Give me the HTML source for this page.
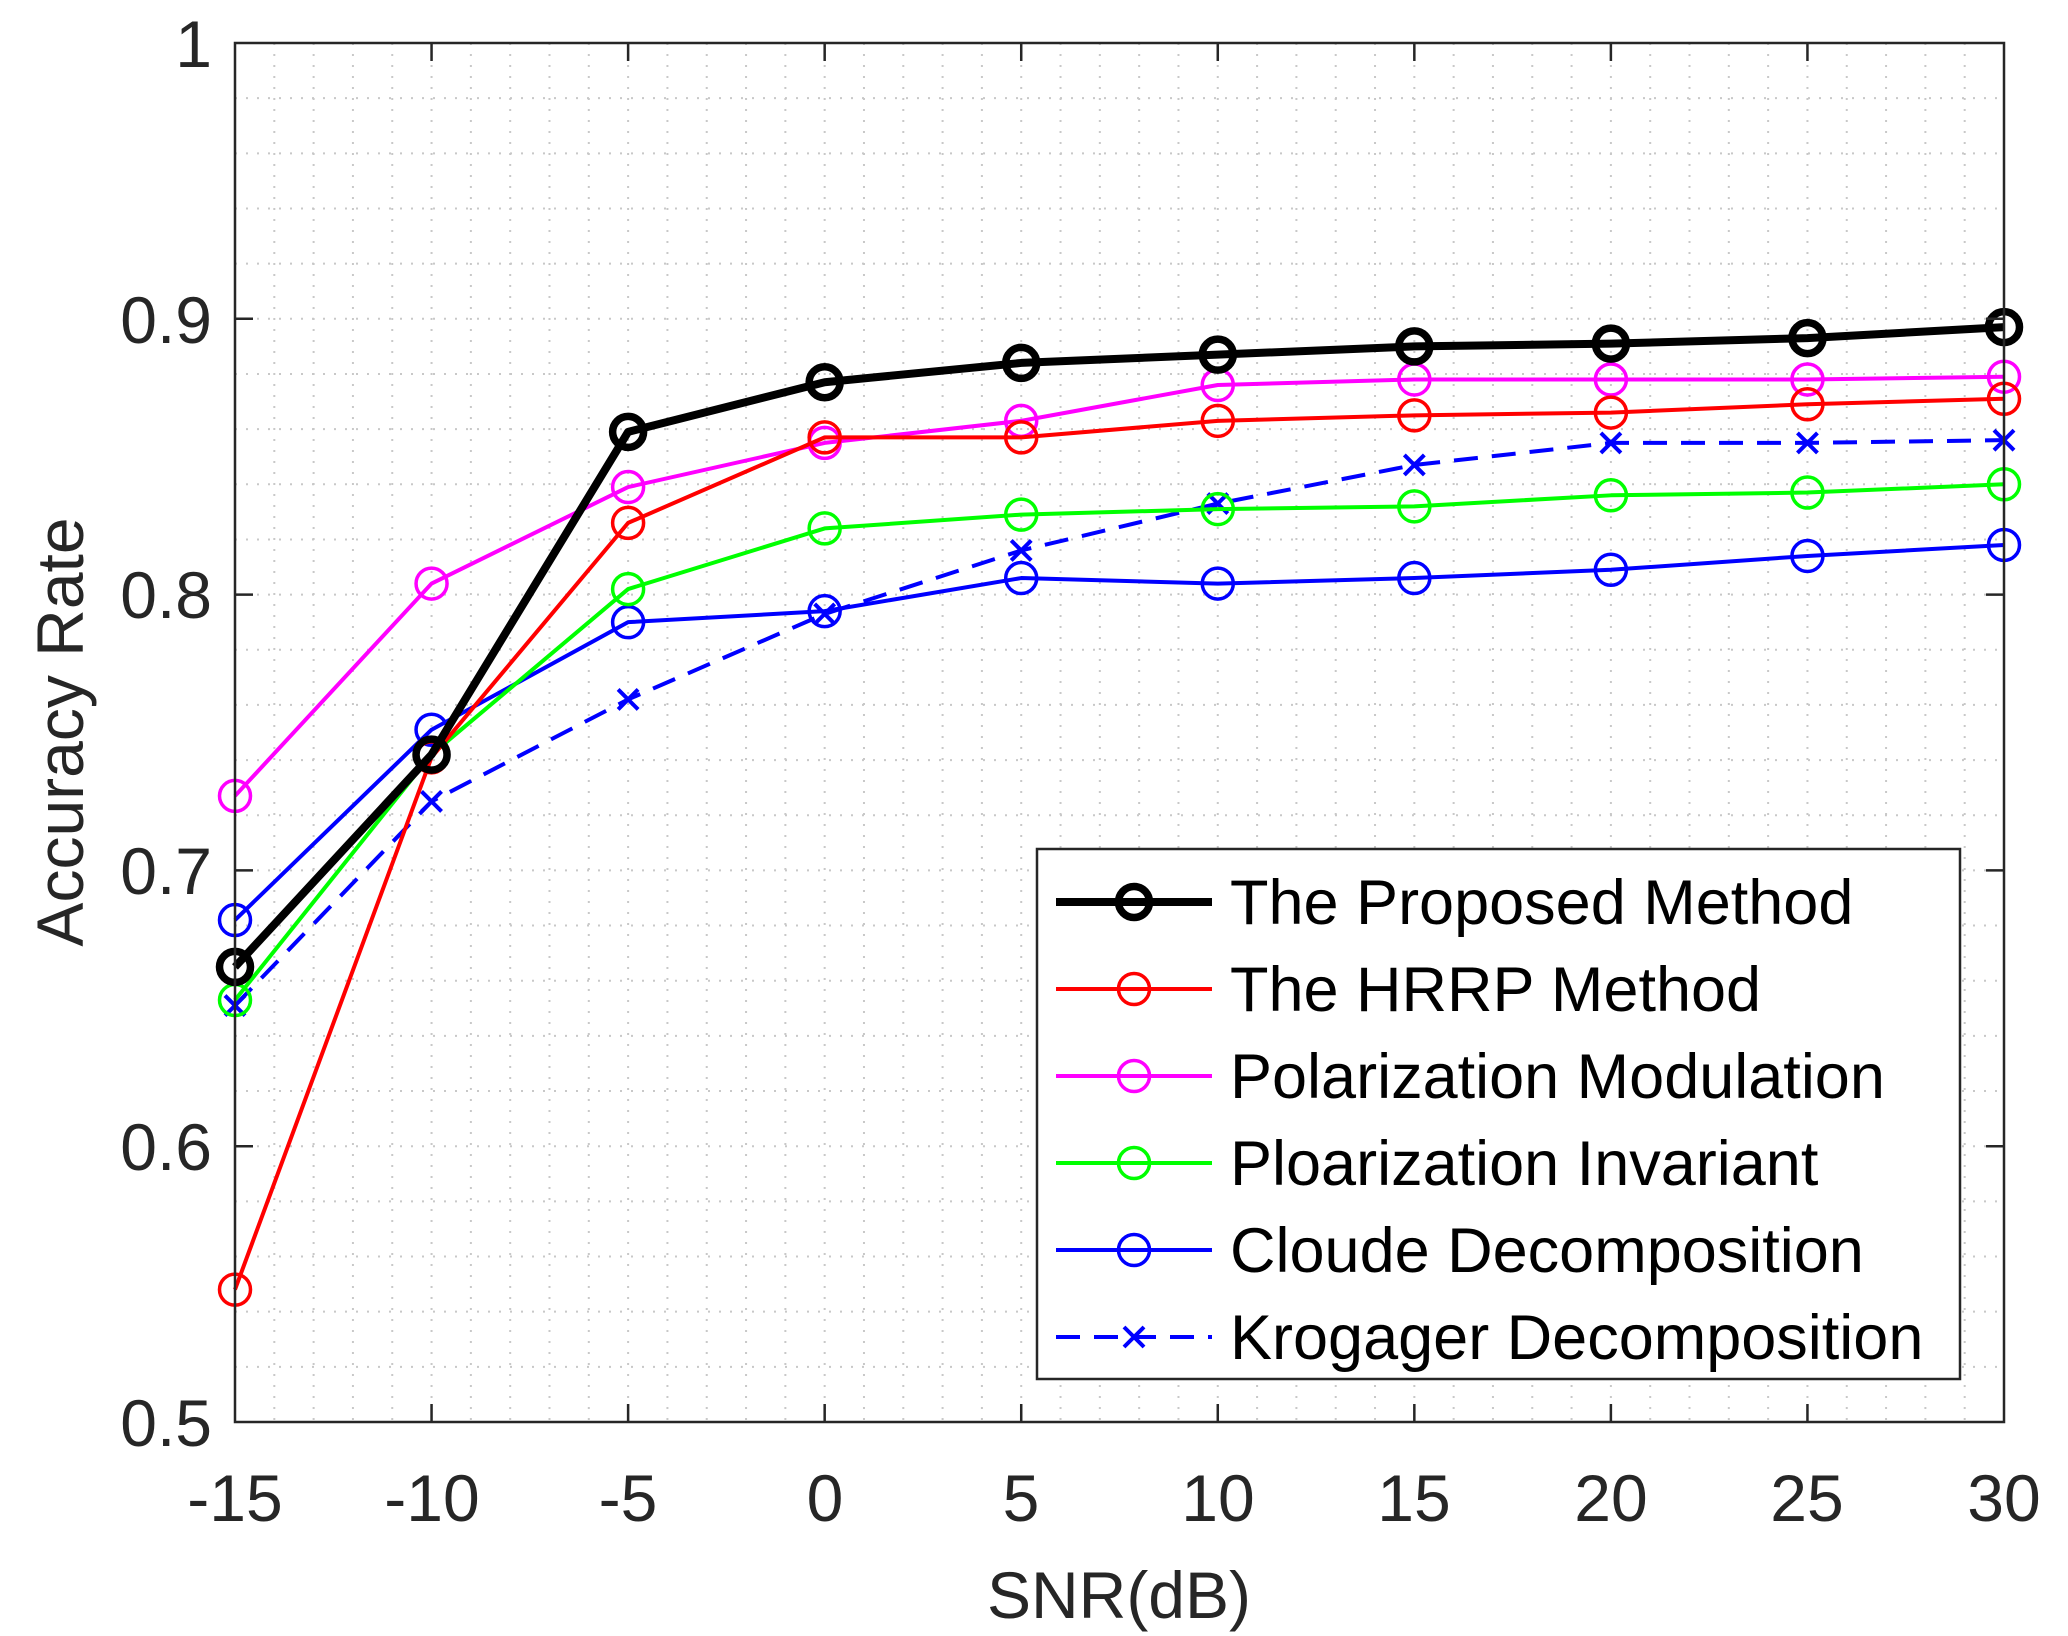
<!DOCTYPE html>
<html><head><meta charset="utf-8"><style>
html,body{margin:0;padding:0;background:#fff;}
svg{display:block;font-family:"Liberation Sans",sans-serif;}
</style></head><body>
<svg id="s" width="2068" height="1636" viewBox="0 0 2068 1636" xmlns="http://www.w3.org/2000/svg">
<rect width="2068" height="1636" fill="#fff"/>
<g id="grid"></g>
<g id="series"></g>
<rect x="235" y="43" width="1769" height="1379" fill="none" stroke="#262626" stroke-width="2.5"/>
<g id="ticks"></g>
<g font-size="66" fill="#262626" text-anchor="end">
<text x="212" y="1446">0.5</text>
<text x="212" y="1170">0.6</text>
<text x="212" y="894">0.7</text>
<text x="212" y="618">0.8</text>
<text x="212" y="343">0.9</text>
<text x="212" y="67">1</text>
</g>
<g font-size="66" fill="#262626" text-anchor="middle">
<text x="235" y="1521">-15</text>
<text x="432" y="1521">-10</text>
<text x="628" y="1521">-5</text>
<text x="825" y="1521">0</text>
<text x="1021" y="1521">5</text>
<text x="1218" y="1521">10</text>
<text x="1414" y="1521">15</text>
<text x="1611" y="1521">20</text>
<text x="1807" y="1521">25</text>
<text x="2004" y="1521">30</text>
<text x="1119" y="1618">SNR(dB)</text>
<text transform="translate(83,732) rotate(-90)">Accuracy Rate</text>
</g>
<rect x="1037" y="849" width="923" height="530" fill="#fff" stroke="#262626" stroke-width="2.5"/>
<g id="leg"></g>
<g font-size="63" fill="#000">
<text x="1230" y="924">The Proposed Method</text>
<text x="1230" y="1011">The HRRP Method</text>
<text x="1230" y="1098">Polarization Modulation</text>
<text x="1230" y="1185">Ploarization Invariant</text>
<text x="1230" y="1272">Cloude Decomposition</text>
<text x="1230" y="1359">Krogager Decomposition</text>
</g>
</svg>
<script>
const NS="http://www.w3.org/2000/svg";
const L=235,R=2004,T=43,B=1422;
const X=v=>L+(v+15)/45*(R-L), Y=v=>B-(v-0.5)/0.5*(B-T);
function el(p,t,a){const e=document.createElementNS(NS,t);for(const k in a)e.setAttribute(k,a[k]);p.appendChild(e);return e;}
const g=document.getElementById('grid');
for(let v=-14;v<30;v++)el(g,'line',{x1:X(v),x2:X(v),y1:T,y2:B,stroke:'#c8c8c8','stroke-width':2,'stroke-dasharray':'2 9'});
for(let i=1;i<25;i++){const y=Y(0.5+i*0.02);el(g,'line',{x1:L,x2:R,y1:y,y2:y,stroke:'#c8c8c8','stroke-width':2,'stroke-dasharray':'2 9'});}
const tk=document.getElementById('ticks');
for(let v=-10;v<30;v+=5){el(tk,'line',{x1:X(v),x2:X(v),y1:B,y2:B-18,stroke:'#262626','stroke-width':2.5});el(tk,'line',{x1:X(v),x2:X(v),y1:T,y2:T+18,stroke:'#262626','stroke-width':2.5});}
for(let i=1;i<5;i++){const y=Y(0.5+i*0.1);el(tk,'line',{x1:L,x2:L+18,y1:y,y2:y,stroke:'#262626','stroke-width':2.5});el(tk,'line',{x1:R,x2:R-18,y1:y,y2:y,stroke:'#262626','stroke-width':2.5});}
const xs=[-15,-10,-5,0,5,10,15,20,25,30];
const S=[
{c:'#0000ff',d:[0.651,0.725,0.762,0.793,0.816,0.833,0.847,0.855,0.855,0.856],w:4,m:'x',dash:'24 14'},
{c:'#0000ff',d:[0.682,0.751,0.790,0.794,0.806,0.804,0.806,0.809,0.814,0.818],w:4,m:'o'},
{c:'#00ff00',d:[0.653,0.742,0.802,0.824,0.829,0.831,0.832,0.836,0.837,0.840],w:4,m:'o'},
{c:'#ff00ff',d:[0.727,0.804,0.839,0.855,0.863,0.876,0.878,0.878,0.878,0.879],w:4,m:'o'},
{c:'#ff0000',d:[0.548,0.741,0.826,0.857,0.857,0.863,0.865,0.866,0.869,0.871],w:4,m:'o'},
{c:'#000000',d:[0.665,0.742,0.859,0.877,0.884,0.887,0.890,0.891,0.893,0.897],w:8,m:'o',mw:7.5}
];
const sg=document.getElementById('series'),lg=document.getElementById('leg');
function marker(p,s,x,y){
 if(s.m==='o')el(p,'circle',{cx:x,cy:y,r:15.5,fill:'none',stroke:s.c,'stroke-width':s.mw||3.5});
 else{el(p,'path',{d:`M${x-10} ${y-10}L${x+10} ${y+10}M${x-10} ${y+10}L${x+10} ${y-10}`,stroke:s.c,'stroke-width':4});}
}
S.forEach(s=>{
 const pts=xs.map((x,i)=>X(x)+','+Y(s.d[i])).join(' ');
 const a={points:pts,fill:'none',stroke:s.c,'stroke-width':s.w,'stroke-linejoin':'round'};
 if(s.dash)a['stroke-dasharray']=s.dash;
 el(sg,'polyline',a);
 xs.forEach((x,i)=>marker(sg,s,X(x),Y(s.d[i])));
});
const order=[5,4,3,2,1,0];
order.forEach((k,i)=>{const s=S[k];const y=902+i*87;
 const a={x1:1056,x2:1212,y1:y,y2:y,stroke:s.c,'stroke-width':s.w};
 if(s.dash)a['stroke-dasharray']=s.dash;
 el(lg,'line',a);marker(lg,s,1134,y);});
</script>
</body></html>
